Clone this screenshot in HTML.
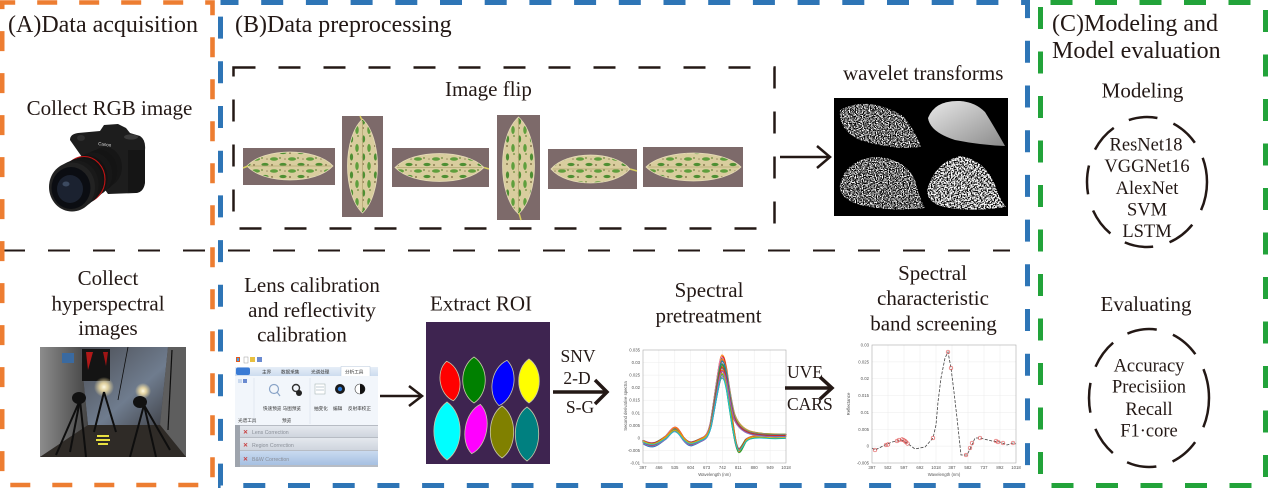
<!DOCTYPE html>
<html><head><meta charset="utf-8">
<style>
html,body{margin:0;padding:0;background:#fff;width:1269px;height:489px;overflow:hidden}
svg{display:block}
.t{font-family:"Liberation Serif","Times New Roman",serif;fill:#231815}
.h{font-size:24px}
.s{font-size:21px}
.m{font-size:18.5px}
.a{font-size:17.5px}
.tk{font-family:"Liberation Sans",Arial,sans-serif;font-size:4.3px;fill:#555}
.cn{font-family:"Liberation Sans","Noto Sans CJK SC",sans-serif;font-size:4.6px;fill:#333}
.en{font-family:"Liberation Sans",sans-serif;font-size:5.2px;fill:#8a8f98}
</style></head>
<body>
<svg width="1269" height="489" viewBox="0 0 1269 489" xmlns="http://www.w3.org/2000/svg">
<defs>
  <pattern id="lp" patternUnits="userSpaceOnUse" width="18" height="12">
    <rect width="18" height="12" fill="#d9cd9e"/>
    <ellipse cx="4" cy="3" rx="4" ry="1.8" fill="#5f9f3d"/>
    <ellipse cx="13" cy="8.5" rx="3.6" ry="1.6" fill="#4e8f33"/>
    <circle cx="10" cy="2" r="0.9" fill="#6b8a3a"/>
    <circle cx="2" cy="9" r="1" fill="#8a7a50"/>
    <circle cx="15" cy="3" r="0.8" fill="#9a8a60"/>
  </pattern>
  <pattern id="lpv" patternUnits="userSpaceOnUse" width="18" height="12" patternTransform="rotate(90)">
    <rect width="18" height="12" fill="#d9cd9e"/>
    <ellipse cx="4" cy="3" rx="4" ry="1.8" fill="#5f9f3d"/>
    <ellipse cx="13" cy="8.5" rx="3.6" ry="1.6" fill="#4e8f33"/>
    <circle cx="10" cy="2" r="0.9" fill="#6b8a3a"/>
    <circle cx="2" cy="9" r="1" fill="#8a7a50"/>
  </pattern>
  <filter id="nz" x="0" y="0" width="1" height="1">
    <feTurbulence type="fractalNoise" baseFrequency="0.85" numOctaves="1" seed="4" result="t"/>
    <feColorMatrix in="t" type="matrix" values="0 0 0 0 1  0 0 0 0 1  0 0 0 0 1  5 0 0 0 -2.1" result="w"/>
    <feComposite in="w" in2="SourceAlpha" operator="in"/>
  </filter>
  <filter id="nz2" x="0" y="0" width="1" height="1">
    <feTurbulence type="fractalNoise" baseFrequency="0.7" numOctaves="1" seed="9" result="t"/>
    <feColorMatrix in="t" type="matrix" values="0 0 0 0 1  0 0 0 0 1  0 0 0 0 1  5 0 0 0 -1.9" result="w"/>
    <feComposite in="w" in2="SourceAlpha" operator="in"/>
  </filter>
  <linearGradient id="gl" x1="0" y1="0" x2="1" y2="1">
    <stop offset="0" stop-color="#e8e8e8"/><stop offset="1" stop-color="#8a8a8a"/>
  </linearGradient>
  <linearGradient id="wallL" x1="0" y1="0" x2="1" y2="0">
    <stop offset="0" stop-color="#8c8c8c"/><stop offset="1" stop-color="#444"/>
  </linearGradient>
  <linearGradient id="wallB" x1="0" y1="0" x2="1" y2="1">
    <stop offset="0" stop-color="#4a4c52"/><stop offset="0.6" stop-color="#6f7c8e"/><stop offset="1" stop-color="#404248"/>
  </linearGradient>
  <radialGradient id="glow">
    <stop offset="0" stop-color="#fffbe8"/><stop offset="0.4" stop-color="#ffe9a8" stop-opacity="0.8"/><stop offset="1" stop-color="#ffe9a8" stop-opacity="0"/>
  </radialGradient>
  <linearGradient id="tabbar" x1="0" y1="0" x2="0" y2="1">
    <stop offset="0" stop-color="#e6eef8"/><stop offset="1" stop-color="#cddcef"/>
  </linearGradient>
  <linearGradient id="row" x1="0" y1="0" x2="0" y2="1">
    <stop offset="0" stop-color="#e4e8ee"/><stop offset="1" stop-color="#cfd5de"/>
  </linearGradient>
  <linearGradient id="rowsel" x1="0" y1="0" x2="0" y2="1">
    <stop offset="0" stop-color="#c9daf0"/><stop offset="1" stop-color="#a6c0e2"/>
  </linearGradient>
  <path id="cA" fill="none" d="M643,442 C646,444 650,446 654,445 C658,444 662,440 666,437 C669,434 671,429 674,428 C677,427 680,433 683,438 C686,442 689,445 692,444 C696,443 700,440 704,438 C707,436 709,432 711,422 C713,410 716,385 719,366 C720,359 721,355 722,355 C724,355 725,360 727,370 C729,385 731,400 734,412 C737,422 742,428 750,431 C760,434 772,434 786,434"/>
  <path id="cB" fill="none" d="M643,441 C646,443 650,445 654,444 C658,443 662,439 666,436 C669,433 671,428 674,427 C677,426 680,432 683,437 C686,441 689,444 692,443 C696,442 700,439 704,437 C707,435 709,431 711,421 C713,409 716,384 719,365 C720,358 721,355 722,355 C724,355 725,362 727,375 C729,392 731,410 733,425 C735,440 737,452 739,452 C741,452 743,446 746,440 C750,435 758,435 768,436 C776,437 782,436 786,436"/>
</defs>

<rect width="1269" height="489" fill="#fff"/>

<!-- ===== Titles ===== -->
<text class="t h" x="8" y="32">(A)Data acquisition</text>
<text class="t h" x="235" y="32">(B)Data preprocessing</text>
<text class="t h" x="1052" y="31">(C)Modeling and</text>
<text class="t h" x="1052" y="58">Model evaluation</text>

<!-- ===== A: RGB ===== -->
<text class="t s" x="109.5" y="115" text-anchor="middle">Collect RGB image</text>
<g>
  <path d="M70,140 Q70,134 78,133 L100,131 L104,125 L118,124 L126,128 L130,133 L140,136 Q146,140 145,150 L145,182 Q144,192 136,193 L108,194 Z" fill="#1d1d1d"/>
  <path d="M128,150 L145,150 L145,182 Q144,192 136,193 L128,192 Z" fill="#151515"/>
  <ellipse cx="131" cy="137" rx="7" ry="2.6" fill="#3a3a3a"/>
  <ellipse cx="81" cy="138" rx="4" ry="3" fill="#2e2e2e"/>
  <text x="98" y="145" font-family="Liberation Sans,sans-serif" font-size="4.5" fill="#ddd" transform="rotate(8 98 145)">Canon</text>
  <ellipse cx="105" cy="167" rx="17" ry="20" fill="#161616"/>
  <ellipse cx="99" cy="170.6" rx="18.2" ry="21" fill="#141414"/>
  <ellipse cx="93" cy="174.2" rx="19.4" ry="21.8" fill="#171717"/>
  <ellipse cx="87" cy="177.8" rx="20.6" ry="22.6" fill="#121212"/>
  <ellipse cx="84" cy="179.5" rx="21" ry="23" fill="none" stroke="#c41414" stroke-width="1.1"/>
  <ellipse cx="81" cy="181.4" rx="21.8" ry="23.4" fill="#151515"/>
  <ellipse cx="76" cy="184.4" rx="22.6" ry="24" fill="#191919"/>
  <ellipse cx="72" cy="187" rx="23" ry="24.5" fill="#222"/>
  <ellipse cx="71" cy="188" rx="19.5" ry="21" fill="#0b0d12"/>
  <ellipse cx="70" cy="189" rx="13" ry="14" fill="#1b2230"/>
  <ellipse cx="66" cy="184" rx="3.5" ry="2.5" fill="#3c4a60"/>
</g>

<!-- ===== A: hyperspectral ===== -->
<text class="t s" x="108" y="285" text-anchor="middle">Collect</text>
<text class="t s" x="108" y="310.5" text-anchor="middle">hyperspectral</text>
<text class="t s" x="108" y="335" text-anchor="middle">images</text>
<clipPath id="hcp"><rect x="40" y="347" width="146" height="110"/></clipPath>
<g clip-path="url(#hcp)">
  <rect x="40" y="347" width="146" height="110" fill="#3c3c3e"/>
  <polygon points="80,347 168,347 160,425 88,425" fill="url(#wallB)"/>
  <polygon points="40,347 80,347 88,425 40,457" fill="url(#wallL)"/>
  <polygon points="168,347 186,347 186,457 160,425" fill="#5e5e5e"/>
  <polygon points="40,457 88,425 160,425 186,457" fill="#2f2b27"/>
  <rect x="82" y="349" width="28" height="32" fill="#141414"/>
  <polygon points="86,352 93,352 88,370" fill="#b01818"/>
  <polygon points="103,352 108,352 106,366" fill="#a01515"/>
  <rect x="62" y="353" width="12" height="10" fill="#3a6aa0"/>
  <circle cx="104" cy="387" r="10" fill="url(#glow)"/>
  <circle cx="143" cy="391" r="8" fill="url(#glow)"/>
  <g stroke="#0e0e0e" stroke-width="2" fill="none">
    <line x1="80" y1="400" x2="56" y2="455"/><line x1="80" y1="400" x2="86" y2="457"/><line x1="80" y1="400" x2="70" y2="452"/>
    <line x1="144" y1="405" x2="130" y2="457"/><line x1="144" y1="405" x2="156" y2="457"/><line x1="144" y1="405" x2="170" y2="450"/>
    <line x1="104" y1="392" x2="94" y2="432"/><line x1="104" y1="392" x2="116" y2="432"/>
    <line x1="128" y1="347" x2="118" y2="400" stroke-width="0.8"/>
    <line x1="172" y1="350" x2="168" y2="430" stroke-width="1.2"/>
  </g>
  <ellipse cx="79" cy="398" rx="7" ry="6" fill="#111"/>
  <ellipse cx="140" cy="402" rx="7" ry="6" fill="#111"/>
  <rect x="97" y="435" width="12" height="2" fill="#e8e040"/>
  <rect x="96" y="439" width="14" height="2" fill="#e8e040"/>
  <rect x="98" y="443" width="10" height="2" fill="#e8e040"/>
</g>

<!-- ===== B: Image flip ===== -->
<rect x="233.5" y="67.5" width="541" height="161" fill="none" stroke="#231815" stroke-width="2.5" stroke-dasharray="22 23"/>
<text class="t s" x="445" y="96">Image flip</text>

<g>
  <rect x="243" y="148" width="92" height="37" fill="#7d6a6a"/>
  <path d="M247,166 C264,147.4 316,147.4 333,166 C316,184.6 264,184.6 247,166 Z" fill="url(#lp)" stroke="#e6dcb8" stroke-width="0.8"/>
  <line x1="249" y1="166" x2="331" y2="166" stroke="#b5a874" stroke-width="0.8"/>
  <line x1="243" y1="168" x2="248" y2="166" stroke="#d8d060" stroke-width="1.5"/>

  <rect x="342" y="116" width="41" height="101" fill="#7d6a6a"/>
  <path d="M362.5,119 C342.5,137.8 342.5,194.2 362.5,213 C382.5,194.2 382.5,137.8 362.5,119 Z" fill="url(#lpv)" stroke="#e6dcb8" stroke-width="0.8"/>
  <line x1="362.5" y1="121" x2="362.5" y2="211" stroke="#b5a874" stroke-width="0.8"/>
  <line x1="360" y1="116" x2="362" y2="120" stroke="#d8d060" stroke-width="1.5"/>

  <rect x="392" y="148" width="97" height="39" fill="#7d6a6a"/>
  <path d="M395,167.5 C413,148.9 466,148.9 484,167.5 C466,186.1 413,186.1 395,167.5 Z" fill="url(#lp)" stroke="#e6dcb8" stroke-width="0.8"/>
  <line x1="397" y1="167.5" x2="482" y2="167.5" stroke="#b5a874" stroke-width="0.8"/>
  <line x1="484" y1="167.5" x2="489" y2="169" stroke="#d8d060" stroke-width="1.5"/>

  <rect x="497" y="115" width="43" height="105" fill="#7d6a6a"/>
  <path d="M518.5,117 C497.2,136.4 497.2,194.6 518.5,214 C539.8,194.6 539.8,136.4 518.5,117 Z" fill="url(#lpv)" stroke="#e6dcb8" stroke-width="0.8"/>
  <line x1="518.5" y1="119" x2="518.5" y2="212" stroke="#b5a874" stroke-width="0.8"/>
  <line x1="519" y1="213" x2="521" y2="220" stroke="#d8d060" stroke-width="1.5"/>

  <rect x="548" y="149" width="89" height="40" fill="#7d6a6a"/>
  <path d="M551,169 C567,150.4 614,150.4 630,169 C614,187.6 567,187.6 551,169 Z" fill="url(#lp)" stroke="#e6dcb8" stroke-width="0.8"/>
  <line x1="553" y1="169" x2="628" y2="169" stroke="#b5a874" stroke-width="0.8"/>
  <line x1="630" y1="169" x2="637" y2="171" stroke="#d8d060" stroke-width="1.5"/>

  <rect x="643" y="147" width="100" height="40" fill="#7d6a6a"/>
  <path d="M646,167 C665,148.4 722,148.4 741,167 C722,185.6 665,185.6 646,167 Z" fill="url(#lp)" stroke="#e6dcb8" stroke-width="0.8"/>
  <line x1="648" y1="167" x2="739" y2="167" stroke="#b5a874" stroke-width="0.8"/>
</g>

<g stroke="#231815" stroke-width="2.5" fill="none">
  <line x1="780" y1="157" x2="829" y2="157"/>
  <polyline points="817,146 830,157 817,168"/>
</g>

<!-- wavelet -->
<text class="t s" x="843" y="80">wavelet transforms</text>
<rect x="834" y="98" width="174" height="118" fill="#000"/>
<path d="M840,110 Q868,95 903,116 Q915,130 921,147 Q890,150 860,140 Q838,130 840,110 Z" fill="#000" filter="url(#nz)"/>
<path d="M928,118 Q935,100 960,101 Q975,102 985,112 Q995,128 1005,146 Q980,145 955,140 Q930,132 928,118 Z" fill="url(#gl)"/>
<path d="M840,185 Q845,160 875,157 Q905,158 915,180 Q920,200 925,208 Q890,212 860,205 Q838,198 840,185 Z" fill="#000" filter="url(#nz)"/>
<path d="M927,190 Q935,162 960,156 Q985,160 995,185 Q1000,200 1006,207 Q975,212 950,208 Q927,205 927,190 Z" fill="#000" filter="url(#nz2)"/>

<!-- ===== B bottom: Lens calibration ===== -->
<text class="t s" x="312" y="292" text-anchor="middle">Lens calibration</text>
<text class="t s" x="312" y="317" text-anchor="middle">and reflectivity</text>
<text class="t s" x="302" y="341.5" text-anchor="middle">calibration</text>

<g>
  <rect x="235" y="357" width="143" height="110" fill="#fff"/>
  <rect x="236" y="357" width="4" height="5" fill="#e05a20"/><rect x="237" y="358" width="2" height="3" fill="#4aa0e0"/>
  <rect x="244" y="357" width="4" height="6" fill="#fff" stroke="#888" stroke-width="0.4"/>
  <rect x="250" y="357" width="5" height="5" fill="#e8c040"/>
  <rect x="257" y="357" width="5" height="5" fill="#6a8ad0"/>
  <rect x="235" y="367" width="143" height="9" fill="url(#tabbar)"/>
  <rect x="236" y="367.5" width="14" height="7.5" rx="2" fill="#3a7bd5"/>
  <text class="cn" x="262" y="373.5">主界</text>
  <text class="cn" x="281" y="373.5">数据采集</text>
  <text class="cn" x="311" y="373.5">光谱处理</text>
  <rect x="341" y="366.5" width="29" height="10" fill="#fff" stroke="#b8c8dc" stroke-width="0.5"/>
  <text class="cn" x="345" y="373.5">分析工具</text>
  <rect x="235" y="376" width="143" height="49" fill="#f2f6fb"/>
  <rect x="238" y="379" width="4" height="4" fill="#c8d8ee"/><rect x="243" y="379" width="4" height="4" fill="#6a8ad0"/>
  <circle cx="274" cy="389" r="4.5" fill="none" stroke="#8aa4c8" stroke-width="1.2"/>
  <line x1="277" y1="392" x2="280" y2="396" stroke="#8aa4c8" stroke-width="1.2"/>
  <circle cx="296" cy="388" r="3.5" fill="none" stroke="#333" stroke-width="1.4"/>
  <circle cx="299" cy="393" r="3" fill="#222"/>
  <rect x="315" y="384" width="10" height="10" fill="#fff" stroke="#9aa" stroke-width="0.5"/>
  <line x1="316" y1="387" x2="324" y2="387" stroke="#9ab" stroke-width="0.6"/>
  <line x1="316" y1="390" x2="324" y2="390" stroke="#9ab" stroke-width="0.6"/>
  <circle cx="340" cy="389" r="5" fill="#1a1a1a"/><circle cx="340" cy="389" r="2.2" fill="#2a7ad8"/>
  <circle cx="360" cy="389" r="5" fill="#fff" stroke="#444" stroke-width="0.6"/>
  <path d="M360,384 A5,5 0 0,1 360,394 Z" fill="#111"/>
  <text class="cn" x="263" y="410" font-size="3.6">快速预览 马图预览</text>
  <text class="cn" x="314" y="410" font-size="3.6">抽变化</text>
  <text class="cn" x="333" y="410" font-size="3.6">编辑</text>
  <text class="cn" x="348" y="410" font-size="3.6">反射率校正</text>
  <text class="cn" x="238" y="422" font-size="3.6" fill="#888">光谱工具</text>
  <text class="cn" x="282" y="422" font-size="3.6" fill="#888">预览</text>
  <line x1="254" y1="378" x2="254" y2="424" stroke="#d0dae6" stroke-width="0.5"/>
  <line x1="310" y1="378" x2="310" y2="424" stroke="#d0dae6" stroke-width="0.5"/>
  <rect x="235" y="425" width="143" height="42" fill="#b7bcc4"/>
  <rect x="235" y="425" width="5" height="42" fill="#9ea4ad"/>
  <rect x="240" y="426" width="138" height="11" fill="url(#row)"/>
  <rect x="240" y="438" width="138" height="12" fill="url(#row)"/>
  <rect x="240" y="451" width="138" height="14" fill="url(#rowsel)"/>
  <g font-family="Liberation Sans,sans-serif" font-size="6" font-weight="bold">
    <text x="243" y="434" fill="#c84040">✕</text>
    <text x="243" y="447" fill="#c84040">✕</text>
    <text x="243" y="461" fill="#c84040">✕</text>
  </g>
  <text class="en" x="252" y="434">Lens Correction</text>
  <text class="en" x="252" y="447">Region Correction</text>
  <text class="en" x="252" y="461" fill="#3a4a66">B&amp;W Correction</text>
</g>

<g stroke="#231815" stroke-width="2.5" fill="none">
  <line x1="380" y1="396" x2="421" y2="396"/>
  <polyline points="409,386 422,396 409,406"/>
</g>

<!-- Extract ROI -->
<text class="t s" x="430" y="310.5">Extract ROI</text>
<rect x="426" y="322" width="124" height="142" fill="#3e2450"/>
<g stroke="#c8c8a8" stroke-width="0.8">
  <path transform="rotate(-10 450 381)" d="M450,361 C463,369 463,393 450,401 C437,393 437,369 450,361 Z" fill="#ff0000"/>
  <path d="M474,357 C489,366.8 489,393.2 474,403 C459,393.2 459,366.8 474,357 Z" fill="#008000"/>
  <path transform="rotate(10 503 383)" d="M503,360 C517.3,369.8 517.3,396.2 503,406 C488.7,396.2 488.7,369.8 503,360 Z" fill="#0000ff"/>
  <path d="M529,359 C542.7,368.2 542.7,393.8 529,403 C515.3,393.8 515.3,368.2 529,359 Z" fill="#ffff00"/>
  <path d="M447,402 C464.5,414.4 464.5,447.6 447,460 C429.5,447.6 429.5,414.4 447,402 Z" fill="#00ffff"/>
  <path transform="rotate(10 476 429)" d="M476,404 C490.3,414 490.3,444 476,454 C461.7,444 461.7,414 476,404 Z" fill="#ff00ff"/>
  <path d="M502,406 C517.6,416.4 517.6,447.6 502,458 C486.4,447.6 486.4,416.4 502,406 Z" fill="#808000"/>
  <path d="M527,407 C542.6,417.8 542.6,450.2 527,461 C511.4,450.2 511.4,417.8 527,407 Z" fill="#008080"/>
</g>

<text class="t a" x="578" y="362" text-anchor="middle">SNV</text>
<text class="t a" x="577" y="384" text-anchor="middle">2-D</text>
<text class="t a" x="580" y="413" text-anchor="middle">S-G</text>
<g stroke="#231815" stroke-width="3.5" fill="none">
  <line x1="553" y1="392" x2="605" y2="392"/>
  <polyline points="595,380 607,392 595,404"/>
</g>

<text class="t s" x="709" y="297" text-anchor="middle">Spectral</text>
<text class="t s" x="708.5" y="322.5" text-anchor="middle">pretreatment</text>

<g>
  <rect x="643" y="350" width="143" height="113" fill="#fff"/>
  <g stroke="#ececec" stroke-width="0.5">
    <line x1="658.9" y1="350" x2="658.9" y2="463"/><line x1="674.8" y1="350" x2="674.8" y2="463"/>
    <line x1="690.7" y1="350" x2="690.7" y2="463"/><line x1="706.6" y1="350" x2="706.6" y2="463"/>
    <line x1="722.4" y1="350" x2="722.4" y2="463"/><line x1="738.3" y1="350" x2="738.3" y2="463"/>
    <line x1="754.2" y1="350" x2="754.2" y2="463"/><line x1="770.1" y1="350" x2="770.1" y2="463"/>
    <line x1="643" y1="362.6" x2="786" y2="362.6"/><line x1="643" y1="375.1" x2="786" y2="375.1"/>
    <line x1="643" y1="387.7" x2="786" y2="387.7"/><line x1="643" y1="400.2" x2="786" y2="400.2"/>
    <line x1="643" y1="412.8" x2="786" y2="412.8"/><line x1="643" y1="425.3" x2="786" y2="425.3"/>
    <line x1="643" y1="437.9" x2="786" y2="437.9"/><line x1="643" y1="450.4" x2="786" y2="450.4"/>
  </g>
  <g stroke-width="1.1" fill="none">
    <use href="#cA" stroke="#ff7f0e" transform="matrix(1,0,0,1,0,0)"/>
    <use href="#cB" stroke="#d62728" transform="matrix(1,0,0,0.98,0.5,8.76)"/>
    <use href="#cA" stroke="#2ca02c" transform="matrix(1,0,0,0.96,-0.5,17.52)"/>
    <use href="#cB" stroke="#1f77b4" transform="matrix(1,0,0,0.94,0,26.28)"/>
    <use href="#cA" stroke="#9467bd" transform="matrix(1,0,0,0.92,0.7,35.04)"/>
    <use href="#cB" stroke="#8c564b" transform="matrix(1,0,0,0.90,-0.7,43.8)"/>
    <use href="#cA" stroke="#e377c2" transform="matrix(1,0,0,0.88,0,52.56)"/>
    <use href="#cB" stroke="#bcbd22" transform="matrix(1,0,0,0.86,0.4,61.32)"/>
    <use href="#cA" stroke="#17becf" transform="matrix(1,0,0,0.84,-0.4,70.08)"/>
    <use href="#cB" stroke="#ff7f0e" transform="matrix(1,0,0,0.82,0,78.84)"/>
    <use href="#cA" stroke="#d62728" transform="matrix(1,0,0,0.80,0.6,87.6)"/>
    <use href="#cB" stroke="#2ca02c" transform="matrix(1,0,0,0.78,-0.6,96.36)"/>
    <use href="#cA" stroke="#1f77b4" transform="matrix(1,0,0,0.76,0,105.12)"/>
    <use href="#cB" stroke="#9467bd" transform="matrix(1,0,0,0.74,0.3,113.88)"/>
    <use href="#cA" stroke="#8c564b" transform="matrix(1,0,0,0.72,0,122.64)"/>
    <use href="#cB" stroke="#e377c2" transform="matrix(1,0,0,0.97,-0.3,13.14)"/>
    <use href="#cA" stroke="#bcbd22" transform="matrix(1,0,0,0.93,0.3,30.66)"/>
    <use href="#cB" stroke="#17becf" transform="matrix(1,0,0,0.89,0,48.18)"/>
    <use href="#cA" stroke="#ff7f0e" transform="matrix(1,0,0,0.85,0.2,65.7)"/>
    <use href="#cB" stroke="#d62728" transform="matrix(1,0,0,0.81,-0.2,83.22)"/>
    <use href="#cA" stroke="#2ca02c" transform="matrix(1,0,0,0.77,0,100.74)"/>
    <use href="#cB" stroke="#8c564b" transform="matrix(1,0,0,0.87,0.5,56.94)"/>
    <use href="#cA" stroke="#7f7f7f" transform="matrix(1,0,0,0.90,-0.5,43.8)"/>
    <use href="#cB" stroke="#ff7f0e" transform="matrix(1,0,0,0.95,0.2,21.9)"/>
    <use href="#cA" stroke="#1f77b4" transform="matrix(1,0,0,0.95,0,23.9)"/>
    <use href="#cB" stroke="#2ca02c" transform="matrix(1,0,0,0.91,0,41.4)"/>
    <use href="#cA" stroke="#d62728" transform="matrix(1,0,0,0.86,0,62.3)"/>
    <use href="#cB" stroke="#bcbd22" transform="matrix(1,0,0,0.79,0,93.0)"/>
    <use href="#cA" stroke="#9467bd" transform="matrix(1,0,0,0.83,0,76.5)"/>
    <use href="#cB" stroke="#17becf" transform="matrix(1,0,0,0.75,0,111.5)"/>
  </g>
  <rect x="643" y="350" width="143" height="113" fill="none" stroke="#aaa" stroke-width="0.6"/>
  <g class="tk" text-anchor="end">
    <text x="640" y="351.5">0.035</text><text x="640" y="364">0.03</text><text x="640" y="376.6">0.025</text>
    <text x="640" y="389.2">0.02</text><text x="640" y="401.7">0.015</text><text x="640" y="414.3">0.01</text>
    <text x="640" y="426.8">0.005</text><text x="640" y="439.4">0</text><text x="640" y="451.9">-0.005</text>
    <text x="640" y="464.5">-0.01</text>
  </g>
  <g class="tk" text-anchor="middle">
    <text x="643" y="469">397</text><text x="658.9" y="469">466</text><text x="674.8" y="469">535</text>
    <text x="690.7" y="469">604</text><text x="706.6" y="469">673</text><text x="722.4" y="469">742</text>
    <text x="738.3" y="469">811</text><text x="754.2" y="469">880</text><text x="770.1" y="469">949</text>
    <text x="786" y="469">1018</text>
  </g>
  <text class="tk" x="714.5" y="476" text-anchor="middle" font-size="5.5">Wavelength (nm)</text>
  <text class="tk" x="0" y="0" text-anchor="middle" font-size="5" transform="translate(627 406) rotate(-90)">Second derivative spectra</text>
</g>

<text class="t a" x="787" y="378">UVE</text>
<text class="t a" x="787" y="410">CARS</text>
<g stroke="#231815" stroke-width="3.5" fill="none">
  <line x1="785" y1="388" x2="831" y2="388"/>
  <polyline points="820,377 832,388 820,399"/>
</g>

<text class="t s" x="932.5" y="280" text-anchor="middle">Spectral</text>
<text class="t s" x="933" y="305" text-anchor="middle">characteristic</text>
<text class="t s" x="933.5" y="330.5" text-anchor="middle">band screening</text>

<g>
  <rect x="872" y="345" width="144" height="118" fill="#fff"/>
  <g stroke="#ececec" stroke-width="0.5">
    <line x1="888" y1="345" x2="888" y2="463"/><line x1="904" y1="345" x2="904" y2="463"/>
    <line x1="920" y1="345" x2="920" y2="463"/><line x1="936" y1="345" x2="936" y2="463"/>
    <line x1="952" y1="345" x2="952" y2="463"/><line x1="968" y1="345" x2="968" y2="463"/>
    <line x1="984" y1="345" x2="984" y2="463"/><line x1="1000" y1="345" x2="1000" y2="463"/>
    <line x1="872" y1="361.9" x2="1016" y2="361.9"/><line x1="872" y1="378.7" x2="1016" y2="378.7"/>
    <line x1="872" y1="395.6" x2="1016" y2="395.6"/><line x1="872" y1="412.4" x2="1016" y2="412.4"/>
    <line x1="872" y1="429.3" x2="1016" y2="429.3"/><line x1="872" y1="446.1" x2="1016" y2="446.1"/>
  </g>
  <polyline fill="none" stroke="#444" stroke-width="0.8" stroke-dasharray="3 1.5"
    points="872,448 875,450 883,446 892,442 902,440 907,443 915,449 925,447 933,438 936,425 938,402 941,378 945,358 948,352 951,368 954,392 957,418 961,455 967,455 972,445 975,438 980,438 992,441 1000,442 1007,445 1013,443 1016,444"/>
  <g fill="none" stroke="#e05a5a" stroke-width="0.7">
    <circle cx="875" cy="450" r="1.8"/><circle cx="886" cy="445" r="1.8"/><circle cx="888" cy="444.5" r="1.8"/>
    <circle cx="897" cy="441" r="1.8"/><circle cx="899" cy="440" r="1.8"/><circle cx="902" cy="439.5" r="1.8"/>
    <circle cx="903.5" cy="440" r="1.8"/><circle cx="905" cy="441" r="1.8"/><circle cx="906" cy="442" r="1.8"/>
    <circle cx="907.5" cy="443.5" r="1.8"/><circle cx="933" cy="438" r="1.8"/><circle cx="948" cy="352" r="1.8"/>
    <circle cx="951" cy="368" r="1.8"/><circle cx="966" cy="455" r="1.8"/><circle cx="970" cy="448" r="1.8"/>
    <circle cx="972" cy="443" r="1.8"/><circle cx="980" cy="438" r="1.8"/><circle cx="996" cy="441" r="1.8"/>
    <circle cx="998" cy="442" r="1.8"/><circle cx="1003" cy="443" r="1.8"/><circle cx="1013" cy="443" r="1.8"/>
  </g>
  <rect x="872" y="345" width="144" height="118" fill="none" stroke="#aaa" stroke-width="0.6"/>
  <g class="tk" text-anchor="end">
    <text x="869" y="346.5">0.03</text><text x="869" y="363.4">0.025</text><text x="869" y="380.2">0.02</text>
    <text x="869" y="397.1">0.015</text><text x="869" y="413.9">0.01</text><text x="869" y="430.8">0.005</text>
    <text x="869" y="447.6">0</text><text x="869" y="464.5">-0.005</text>
  </g>
  <g class="tk" text-anchor="middle">
    <text x="872" y="469">397</text><text x="888" y="469">502</text><text x="904" y="469">597</text>
    <text x="920" y="469">692</text><text x="936" y="469">1018</text><text x="952" y="469">387</text>
    <text x="968" y="469">582</text><text x="984" y="469">737</text><text x="1000" y="469">892</text>
    <text x="1016" y="469">1018</text>
  </g>
  <text class="tk" x="944" y="476" text-anchor="middle" font-size="5.5">Wavelength (nm)</text>
  <text class="tk" x="0" y="0" text-anchor="middle" font-size="5" transform="translate(850 404) rotate(-90)">Reflectance</text>
</g>

<!-- ===== C ===== -->
<text class="t s" x="1142.5" y="97.5" text-anchor="middle">Modeling</text>
<ellipse cx="1147" cy="182" rx="60" ry="65" fill="none" stroke="#231815" stroke-width="2.5" stroke-dasharray="29 17"/>
<text class="t m" x="1146" y="150.5" text-anchor="middle">ResNet18</text>
<text class="t m" x="1147" y="172" text-anchor="middle">VGGNet16</text>
<text class="t m" x="1147" y="194" text-anchor="middle">AlexNet</text>
<text class="t m" x="1147" y="215.5" text-anchor="middle">SVM</text>
<text class="t m" x="1147" y="237" text-anchor="middle">LSTM</text>

<text class="t s" x="1146" y="311" text-anchor="middle">Evaluating</text>
<ellipse cx="1149" cy="398" rx="60" ry="69" fill="none" stroke="#231815" stroke-width="2.5" stroke-dasharray="30 17"/>
<text class="t m" x="1149" y="371.5" text-anchor="middle">Accuracy</text>
<text class="t m" x="1149" y="392.5" text-anchor="middle">Precisiion</text>
<text class="t m" x="1149" y="415" text-anchor="middle">Recall</text>
<text class="t m" x="1149" y="436.5" text-anchor="middle">F1·core</text>

<!-- ===== Borders ===== -->
<line x1="3" y1="250.5" x2="1010" y2="250.5" stroke="#231815" stroke-width="2" stroke-dasharray="22 23"/>
<rect x="2.2" y="2.5" width="210.3" height="482.5" fill="none" stroke="#ED7D31" stroke-width="4.6" stroke-dasharray="20 22" stroke-dashoffset="7"/>
<rect x="220.5" y="2.5" width="807" height="483" fill="none" stroke="#2E75B6" stroke-width="5" stroke-dasharray="22 22.7" stroke-dashoffset="4"/>
<rect x="1040.5" y="2.5" width="225" height="483" fill="none" stroke="#22A33A" stroke-width="5" stroke-dasharray="22 22.5" stroke-dashoffset="-10"/>
</svg>
</body></html>
